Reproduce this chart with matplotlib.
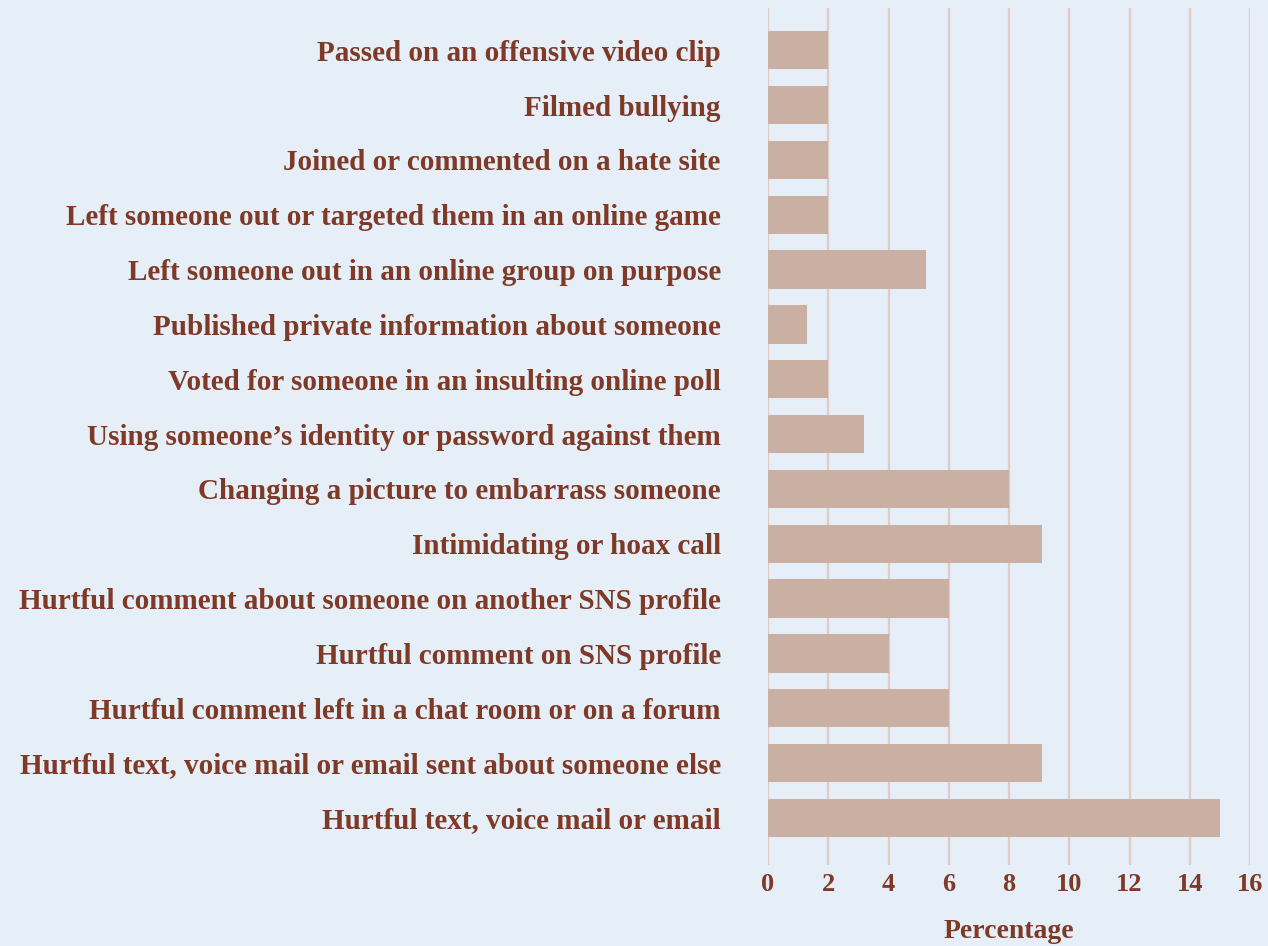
import matplotlib
matplotlib.use("Agg")
import matplotlib.pyplot as plt

categories = [
    "Passed on an offensive video clip",
    "Filmed bullying",
    "Joined or commented on a hate site",
    "Left someone out or targeted them in an online game",
    "Left someone out in an online group on purpose",
    "Published private information about someone",
    "Voted for someone in an insulting online poll",
    "Using someone\u2019s identity or password against them",
    "Changing a picture to embarrass someone",
    "Intimidating or hoax call",
    "Hurtful comment about someone on another SNS profile",
    "Hurtful comment on SNS profile",
    "Hurtful comment left in a chat room or on a forum",
    "Hurtful text, voice mail or email sent about someone else",
    "Hurtful text, voice mail or email",
]
values = [2.0, 2.0, 2.0, 2.0, 5.25, 1.3, 2.0, 3.2, 8.0, 9.1, 6.0, 4.0, 6.0, 9.1, 15.0]
xticks = [0, 2, 4, 6, 8, 10, 12, 14, 16]

BG = "#e6eef8"
BAR = "#c9b0a3"
GRID = "#dfcdc5"
TXT = "#7e3a26"

plt.rcParams['font.family'] = ['Liberation Serif', 'DejaVu Serif']

fig = plt.figure(figsize=(12.68, 9.46), dpi=100, facecolor=BG)
ax = fig.add_axes([768/1268, 1-865/946, (1250-768)/1268, (865-8)/946])
ax.set_facecolor(BG)

ypos = list(range(len(categories)))
ax.barh(ypos, values, height=0.7, color=BAR, zorder=3)
ax.set_ylim(len(categories) - 1 + 0.86, -0.77)
ax.set_xlim(0, 16)
ax.set_xticks(xticks)
ax.set_xticklabels([str(t) for t in xticks], fontsize=19, color=TXT, fontweight='bold')
ax.set_yticks(ypos)
ax.set_yticklabels(categories, fontsize=21, color=TXT, fontweight='bold')
ax.tick_params(axis='both', length=0)
ax.tick_params(axis='y', pad=34)
ax.tick_params(axis='x', pad=6)
ax.grid(axis='x', color=GRID, linewidth=1.6, zorder=0)
ax.grid(axis='y', visible=False)
for s in ax.spines.values():
    s.set_visible(False)
ax.set_xlabel("Percentage", fontsize=20, color=TXT, labelpad=16, fontweight='bold')

fig.savefig("out.png", dpi=100, facecolor=BG)
